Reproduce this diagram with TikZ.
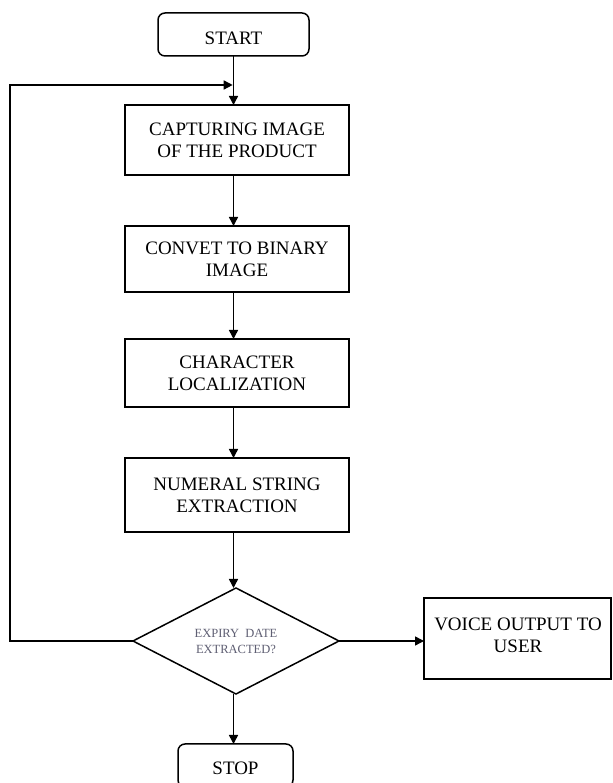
\documentclass[tikz,border=0pt]{standalone}
\usepackage{fontspec}
\setmainfont{Liberation Serif}
\usetikzlibrary{shapes.geometric,arrows.meta}
\definecolor{dtext}{RGB}{95,95,115}
\begin{document}
\begin{tikzpicture}[x=1pt,y=1pt,
  every node/.style={inner sep=0pt, outer sep=0pt},
  boxtext/.style={font=\fontsize{19}{22}\selectfont, align=center},
  procbox/.style={draw, line width=1.5pt, boxtext},
  termbox/.style={draw, line width=1.5pt, rounded corners=7pt, boxtext},
  decbox/.style={draw, line width=1.5pt, diamond, shape aspect=1.94, minimum width=206pt, minimum height=106pt,
     font=\fontsize{12.5}{16}\selectfont, text=dtext, align=center},
  conn/.style={line width=1.5pt, -{Triangle[length=9pt,width=9pt]}},
  plain/.style={line width=1.5pt}
]
\path[use as bounding box, clip] (0,0) rectangle (612,783);
\fill[white] (0,0) rectangle (612,783);

\node[termbox, minimum width=151pt, minimum height=43pt] (start) at (233.5,748.5) {};
\node[boxtext] (starttxt) at (233.5,745) {START};

\node[procbox, minimum width=224pt, minimum height=70pt] (capture) at (237,643) {CAPTURING IMAGE\\OF THE PRODUCT};
\node[procbox, minimum width=224pt, minimum height=66pt] (convert) at (237,524) {CONVET TO BINARY\\IMAGE};
\node[procbox, minimum width=224pt, minimum height=68pt] (charloc) at (237,410) {CHARACTER\\LOCALIZATION};
\node[procbox, minimum width=224pt, minimum height=74pt] (numeral) at (237,288) {NUMERAL STRING\\EXTRACTION};

\node[decbox] (dec) at (236,142) {EXPIRY~~DATE\\EXTRACTED?};

\node[procbox, minimum width=187pt, minimum height=81pt] (voice) at (517.5,144.5) {};
\node[boxtext] (voicetxt) at (518,147.5) {VOICE OUTPUT TO\\USER};

\node[termbox, minimum width=115pt, minimum height=43pt] (stop) at (235.5,17.5) {};
\node[boxtext] (stoptxt) at (235.5,15) {STOP};

\coordinate (join) at (start.south |- 0,698);
\coordinate (loopa) at (10,142);
\coordinate (loopb) at (10,698);

\draw[conn] (start.south) -- (start.south |- capture.north);
\draw[conn] (start.south |- capture.south) -- (start.south |- convert.north);
\draw[conn] (start.south |- convert.south) -- (start.south |- charloc.north);
\draw[conn] (start.south |- charloc.south) -- (start.south |- numeral.north);
\draw[conn] (start.south |- numeral.south) -- (start.south |- dec.north);
\draw[conn] (dec.south -| start.south) -- (start.south |- stop.north);
\draw[conn] (dec.east) -- (voice.west |- dec.east);
\draw[conn] (dec.west) -- (loopa) -- (loopb) -- ([xshift=-0.8pt]join);
\end{tikzpicture}
\end{document}
